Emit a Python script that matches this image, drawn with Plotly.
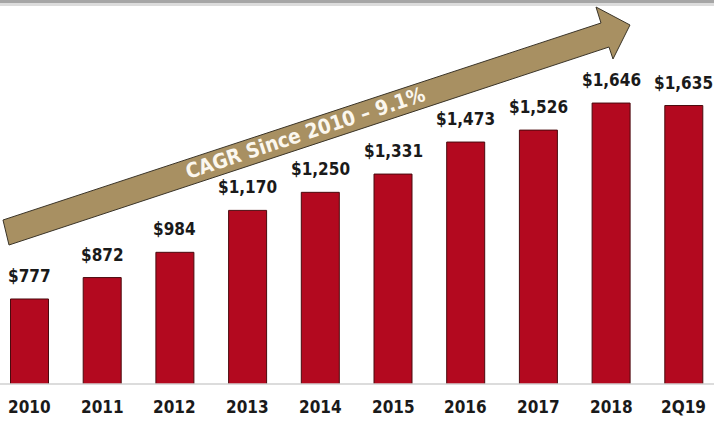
import plotly.graph_objects as go

# Annual values (in $ millions) by period
periods = ["2010", "2011", "2012", "2013", "2014", "2015", "2016", "2017", "2018", "2Q19"]
values = [777, 872, 984, 1170, 1250, 1331, 1473, 1526, 1646, 1635]
value_labels = ["$777", "$872", "$984", "$1,170", "$1,250", "$1,331",
                "$1,473", "$1,526", "$1,646", "$1,635"]
arrow_caption = "CAGR Since 2010 \u2013 9.1%"

W, H = 714, 421
PLOT_H = 384  # plot area height in px (bottom margin holds the year labels)

BAR_RED = "#b3091f"
BAR_EDGE = "#4a0a0e"
ARROW_FILL = "#a89062"
FONT = "DejaVu Sans Condensed, Roboto, Arial, sans-serif"

fig = go.Figure()
fig.add_trace(go.Bar(
    x=periods,
    y=values,
    marker=dict(color=BAR_RED, line=dict(color=BAR_EDGE, width=1)),
    hoverinfo="skip",
))

# On a category axis, numeric-looking names would be read as indices,
# so annotations are placed by category index.
for i, (v, t) in enumerate(zip(values, value_labels)):
    fig.add_annotation(
        x=i, y=v, xref="x", yref="y", text=f"<b>{t}</b>",
        showarrow=False, yanchor="bottom", yshift=11,
        font=dict(family=FONT, size=17, color="#1a1a1a"),
    )

# category labels below the axis
for i, p in enumerate(periods):
    fig.add_annotation(
        x=i, y=-23 / PLOT_H, xref="x", yref="paper", text=f"<b>{p}</b>",
        showarrow=False, yanchor="middle",
        font=dict(family=FONT, size=17, color="#1a1a1a"),
    )


def px(x, y):
    """Convert pixel position inside the plot area to paper coordinates."""
    return x / W, 1 - y / PLOT_H


# growth arrow
pts = [(3, 220), (601, 23), (596, 7), (630, 25), (613, 59), (609, 47), (9, 245)]
path = "M " + " L ".join(f"{px(a, b)[0]:.5f},{px(a, b)[1]:.5f}" for a, b in pts) + " Z"
fig.add_shape(type="path", path=path, xref="paper", yref="paper",
              fillcolor=ARROW_FILL, line=dict(color="#3a3428", width=1), layer="above")

cx, cy = px(305, 133)
fig.add_annotation(
    x=cx, y=cy, xref="paper", yref="paper", text=f"<b>{arrow_caption}</b>",
    showarrow=False, textangle=-18.3,
    font=dict(family=FONT, size=20.5, color="#fbf7ee"),
)

# baseline rule
fig.add_shape(type="line", xref="paper", yref="paper", x0=0, x1=1, y0=0, y1=0,
              line=dict(color="#d0d0d0", width=1.5))

# grey band at the top edge
fig.add_shape(type="rect", xref="paper", yref="paper", x0=0, x1=1,
              y0=1 - 6 / PLOT_H, y1=1 + 0.01, fillcolor="#dcdcdc", line_width=0)
fig.add_shape(type="rect", xref="paper", yref="paper", x0=0, x1=1,
              y0=1 - 3 / PLOT_H, y1=1 + 0.01, fillcolor="#a6a6a6", line_width=0)

pitch = 72.7
first_center = 29.5
fig.update_layout(
    width=W, height=H,
    margin=dict(l=0, r=0, t=0, b=H - PLOT_H),
    paper_bgcolor="white", plot_bgcolor="white",
    showlegend=False,
    bargap=1 - 38 / pitch,
    xaxis=dict(
        type="category",
        range=[-first_center / pitch, (W - first_center) / pitch],
        showticklabels=False, showgrid=False, zeroline=False, showline=False,
        fixedrange=True,
    ),
    yaxis=dict(
        range=[400, 2103], visible=False, showgrid=False, zeroline=False,
        fixedrange=True,
    ),
)

fig.write_html("out.html")
